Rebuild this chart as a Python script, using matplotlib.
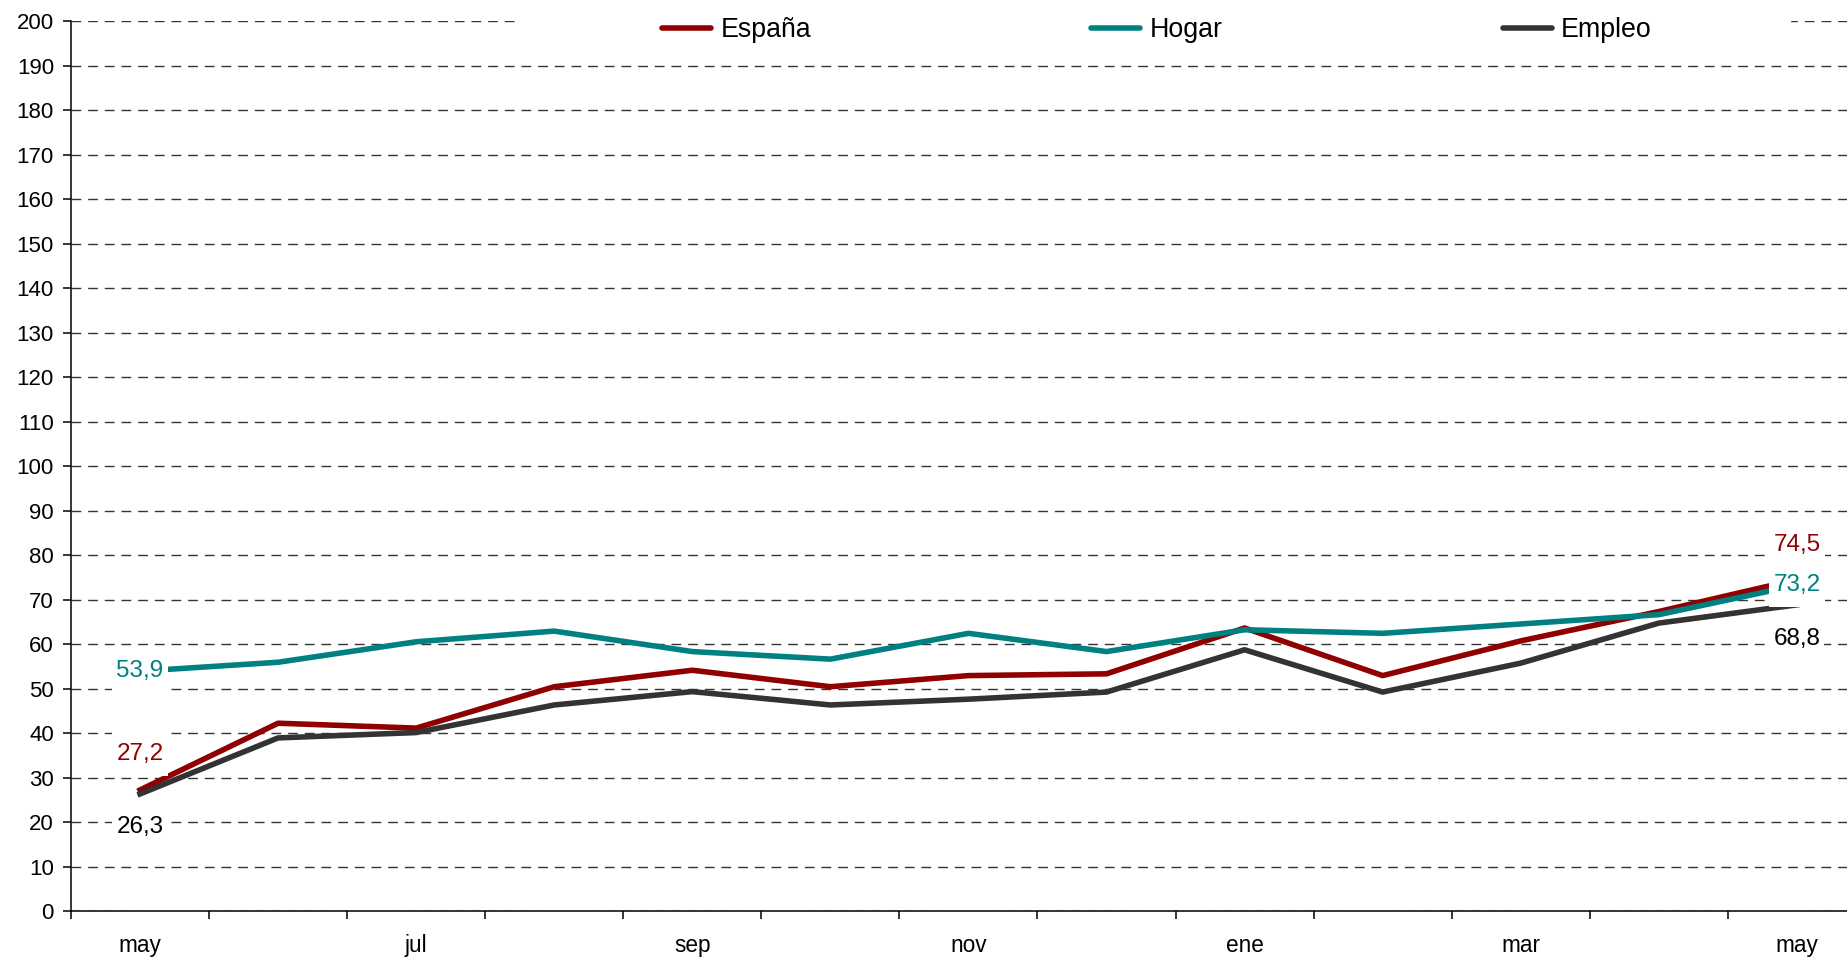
import matplotlib
matplotlib.use("Agg")
import matplotlib.pyplot as plt
from matplotlib.path import Path

plt.rcParams['font.family'] = ['Liberation Sans', 'DejaVu Sans']

# meses (may -> may)
months = ['may', 'jun', 'jul', 'ago', 'sep', 'oct', 'nov', 'dic',
          'ene', 'feb', 'mar', 'abr', 'may']
shown_labels = ['may', '', 'jul', '', 'sep', '', 'nov', '',
                'ene', '', 'mar', '', 'may']

espana = [27.2, 42.2, 41.1, 50.4, 54.1, 50.4, 52.9, 53.3, 63.6, 52.9, 60.7, 67.3, 74.5]
hogar = [53.9, 55.9, 60.5, 62.9, 58.3, 56.6, 62.4, 58.3, 63.2, 62.4, 64.5, 66.6, 73.2]
empleo = [26.3, 38.9, 40.1, 46.3, 49.3, 46.3, 47.6, 49.2, 58.7, 49.2, 55.7, 64.7, 68.8]

c_esp = '#900000'
c_hog = '#008080'
c_emp = '#333333'


def tall_box(x0, y0, width, height, mutation_size):
    # white box around the data labels, taller than wide
    px = 0.17 * mutation_size
    py = 0.45 * mutation_size
    return Path([(x0 - px, y0 - py), (x0 + width + px, y0 - py),
                 (x0 + width + px, y0 + height + py), (x0 - px, y0 + height + py),
                 (x0 - px, y0 - py)], closed=True)


fig = plt.figure(figsize=(18.47, 9.58), dpi=100)
ax = fig.add_axes([0.03844, 0.04906, 0.9718, 0.929])

x = list(range(len(months)))
ax.plot(x, espana, color=c_esp, lw=4.0, label='España', zorder=3)
ax.plot(x, hogar, color=c_hog, lw=4.0, label='Hogar', zorder=3)
ax.plot(x, empleo, color=c_emp, lw=4.0, label='Empleo', zorder=3)

ax.set_xlim(-0.5, len(months) - 0.5)
ax.set_ylim(0, 200)
ax.set_yticks(range(0, 201, 10))
ax.set_xticks(x)
ax.set_xticklabels(shown_labels)
ax.set_xticks([i - 0.5 for i in range(len(months) + 1)], minor=True)

ax.tick_params(axis='x', which='major', length=0, pad=16.5, labelsize=16.3)
ax.tick_params(axis='x', which='minor', length=6, width=1.1, direction='out')
ax.tick_params(axis='y', length=5.8, width=1.1, pad=6.5, labelsize=16)

ax.set_axisbelow(True)
ax.yaxis.grid(True, color='#333333', lw=1.0, dashes=(7, 5))
for s in ['top', 'right']:
    ax.spines[s].set_visible(False)
for s in ['left', 'bottom']:
    ax.spines[s].set_linewidth(1.1)
    ax.spines[s].set_color('black')

# white band behind the legend (hides the top gridline)
ax.fill_between([2.73, 11.95], 196, 204, color='white', zorder=1, clip_on=False)

leg = ax.legend(loc='center', bbox_to_anchor=(0.605, 0.990), ncol=3, frameon=False,
                fontsize=19.3, handlelength=1.83, handletextpad=0.35,
                columnspacing=10.45)
for h in leg.get_lines():
    h.set_linewidth(4.0)
    h.set_solid_capstyle('round')

# data labels first and last month
lab_font = 17.5
first, last = 0, len(months) - 1
labels = [
    (first, espana[first], 8, c_esp),
    (first, empleo[first], -7.5, 'black'),
    (first, hogar[first], 0.1, c_hog),
    (last, espana[last], 7.7, c_esp),
    (last, hogar[last], 0.1, c_hog),
    (last, empleo[last], -7.6, 'black'),
]
for xi, val, off, col in labels:
    ax.text(xi, val + off, f"{val:.1f}".replace('.', ','), color=col,
            fontsize=lab_font, ha='center', va='center', zorder=6,
            bbox=dict(boxstyle=tall_box, fc='white', ec='none'))

fig.savefig('out.png', dpi=100)
